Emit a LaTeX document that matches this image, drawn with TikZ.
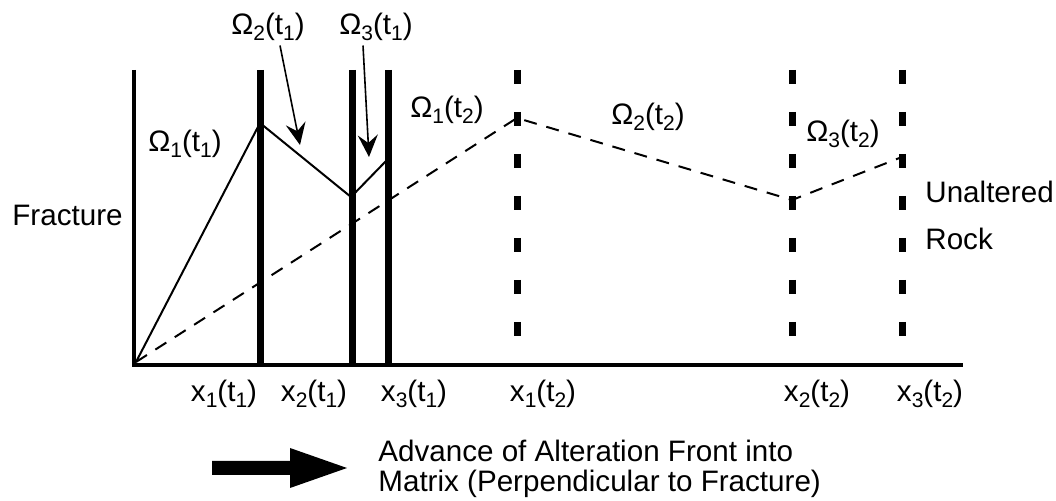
\documentclass[tikz,border=0pt]{standalone}
\usepackage{fontspec}
\setmainfont{Liberation Sans}
\usepackage{tikz}
\usetikzlibrary{arrows.meta}

\newcommand{\sbs}[1]{\raisebox{-2.8pt}{\fontsize{10.5}{12}\selectfont #1}}
\newcommand{\omg}[2]{Ω\sbs{#1}(t\sbs{#2})}
\newcommand{\xpos}[2]{x\sbs{#1}(t\sbs{#2})}

\begin{document}
\begin{tikzpicture}[
    x=0.5pt, y=-0.5pt,
    txt/.style={font=\fontsize{14.8}{16}\selectfont, inner sep=0pt, anchor=base},
    axis/.style={line width=2.2pt, line join=miter},
    front/.style={line width=3.5pt},
    oldfront/.style={line width=3.5pt, dash pattern=on 7pt off 14pt},
    profile/.style={line width=1pt},
    oldprofile/.style={line width=1pt, dash pattern=on 6.5pt off 5pt},
    pointer/.style={-{Stealth[length=11pt, width=10pt, inset=4pt]}, line width=0.8pt}
]
    \useasboundingbox (0,0) rectangle (1056,501);

    % axes
    \draw[axis] (134,70) coordinate (axtop) -- (134,365) coordinate (origin) -- (963,365) coordinate (axend);

    % fronts at t1 and t2
    \foreach \x/\n in {260/a, 352/b, 388/c}
        \draw[front] (\x,70) coordinate (top\n) -- (\x,365) coordinate (bot\n);
    \foreach \x/\n in {517/d, 792/e, 902/f}
        \draw[oldfront] (\x,70) coordinate (top\n) -- (\x,365) coordinate (bot\n);

    % profiles
    \coordinate (start) at (136,362);
    \coordinate (p1) at (260,123);
    \coordinate (p2) at (351,197);
    \coordinate (p3) at (387,160);
    \coordinate (q1) at (517,118);
    \coordinate (q2) at (792,200);
    \coordinate (q3) at (902,157);
    \draw[profile] (start) -- (p1) -- (p2) -- (p3);
    \draw[oldprofile] (start) -- (q1) -- (q2) -- (q3);

    % labels
    \node[txt, anchor=base west] (fracture) at (12,226) {Fracture};
    \node[txt, anchor=base west] (unaltered) at (925,203) {Unaltered};
    \node[txt, anchor=base west] (rock) at (925,250) {Rock};

    \node[txt] (om1a) at (185,152) {\omg{1}{1}};
    \node[txt] (om2a) at (268,35) {\omg{2}{1}};
    \node[txt] (om3a) at (376,35) {\omg{3}{1}};
    \node[txt] (om1b) at (447,118) {\omg{1}{2}};
    \node[txt] (om2b) at (648,125) {\omg{2}{2}};
    \node[txt] (om3b) at (843,142) {\omg{3}{2}};

    \node[txt] (x1a) at (224,402) {\xpos{1}{1}};
    \node[txt] (x2a) at (314,402) {\xpos{2}{1}};
    \node[txt] (x3a) at (414,402) {\xpos{3}{1}};
    \node[txt] (x1b) at (543,402) {\xpos{1}{2}};
    \node[txt] (x2b) at (817,402) {\xpos{2}{2}};
    \node[txt] (x3b) at (930,402) {\xpos{3}{2}};

    % pointers to the t1 zones
    \coordinate (om2tip) at (300,145);
    \coordinate (om3tip) at (369,157);
    \draw[pointer] ([xshift=6pt, yshift=-2pt]om2a.south) -- (om2tip);
    \draw[pointer] ([xshift=-6.5pt, yshift=-2pt]om3a.south) -- (om3tip);

    % direction of advance
    \fill (212,461) -- (290,461) -- (290,448) -- (347,468) -- (290,488) -- (290,475) -- (212,475) -- cycle;
    \node[txt, anchor=base west] (advance) at (378,462) {Advance of Alteration Front into};
    \node[txt, anchor=base west] (matrix) at (378,492) {Matrix (Perpendicular to Fracture)};
\end{tikzpicture}
\end{document}
